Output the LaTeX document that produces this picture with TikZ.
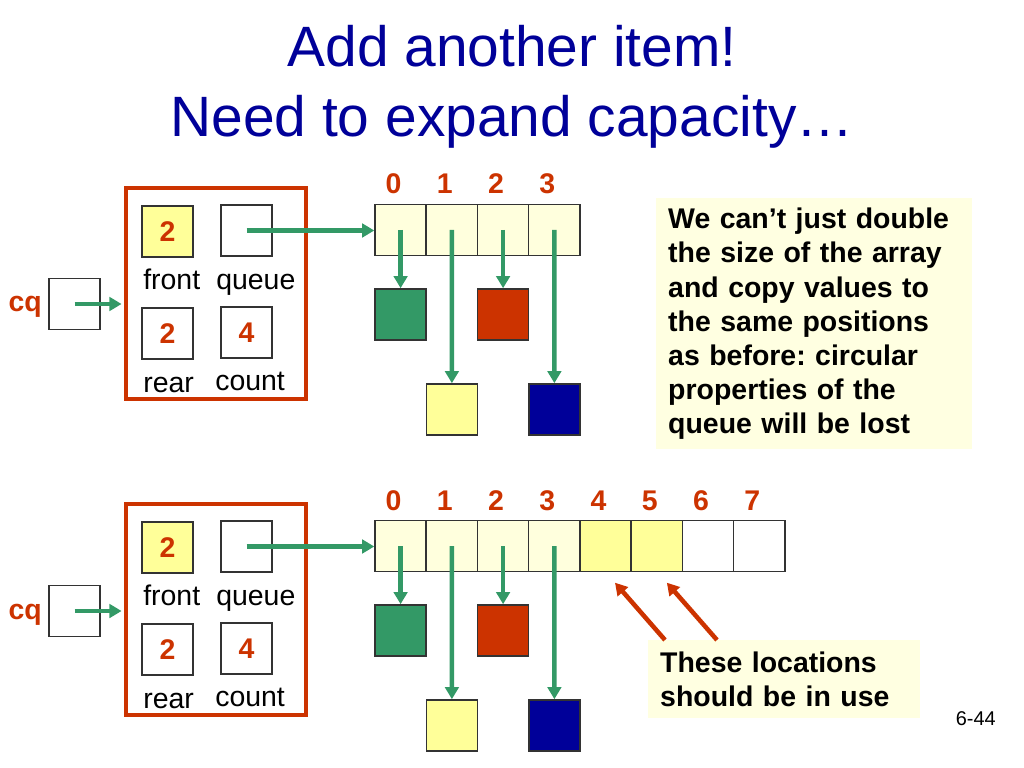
\documentclass[tikz,border=0pt]{standalone}
\usepackage{fontspec}
\setmainfont{Liberation Sans}
\usetikzlibrary{arrows.meta,calc}
\frenchspacing
\definecolor{qred}{HTML}{CC3300}
\definecolor{qgreen}{HTML}{339966}
\definecolor{qblue}{HTML}{000099}
\definecolor{qyellow}{HTML}{FFFF99}
\definecolor{qcream}{HTML}{FFFFDD}
\definecolor{qnote}{HTML}{FFFFE1}
\tikzset{
    box/.style={draw=black!80, line width=1pt, minimum size=36pt, inner sep=0pt},
    num/.style={text=qred, font=\fontsize{20}{24}\selectfont\bfseries},
    lbl/.style={font=\fontsize{20}{24}\selectfont, anchor=base west, inner sep=0pt},
    ptr/.style={draw=qgreen, line width=3.2pt, -{Triangle[length=8.5pt,width=9.5pt]}},
    hint/.style={draw=qred, line width=3.2pt, -{Triangle[length=8.5pt,width=9.5pt]}},
    note/.style={fill=qnote, align=left, inner xsep=8.4pt, font=\fontsize{20}{24}\selectfont\bfseries},
}
\begin{document}
\begin{tikzpicture}[x=0.703125pt,y=-0.703125pt]
            \useasboundingbox (0,0) rectangle (1024,768);
            \node[text=qblue, font=\fontsize{40}{48}\selectfont, anchor=base] (title1) at (512,67) {Add another item!};
            \node[text=qblue, font=\fontsize{40}{48}\selectfont, anchor=base] (title2) at (512,137) {Need to expand capacity…};
            \foreach \i in {0,...,3} {
                \node[box, fill=qcream] (cella\i) at ({400.6+51.25*\i},230) {};
                \node[num, anchor=base] at ({393.6+51.25*\i},194) {\i};
            }
            \foreach \i/\c in {0/qcream,1/qcream,2/qcream,3/qcream,4/qyellow,5/qyellow,6/white,7/white} {
                \node[box, fill=\c] (cellb\i) at ({400.6+51.25*\i},546) {};
                \node[num, anchor=base] at ({393.6+51.25*\i},510) {\i};
            }
            \foreach \s/\dy/\cy in {a/0/304,b/316/611} {
                \node[draw=qred, line width=2.8pt, minimum width=127pt, minimum height=149pt] (frame\s) at (216,{293.5+\dy}) {};
                \node[box, fill=qyellow, num] (front\s) at (167.5,{231.5+\dy}) {2};
                \node[box] (queue\s) at (246.5,{230.5+\dy}) {};
                \node[box, num] (rear\s) at (167.5,{333.5+\dy}) {2};
                \node[box, num] (count\s) at (246.5,{332.5+\dy}) {4};
                \node[lbl] at (143,{289+\dy}) {front};
                \node[lbl] at (216,{289+\dy}) {queue};
                \node[lbl] at (143,{392+\dy}) {rear};
                \node[lbl] at (215,{390+\dy}) {count};
                \node[box, fill=white] (cq\s) at (74.5,\cy) {};
                \node[num, anchor=base east, inner sep=0pt] at (42,{\cy+8}) {cq};
                \draw[ptr] (cq\s.center) -- ([xshift=-1.5pt]cq\s.center -| frame\s.west);
                \draw[ptr] (queue\s.center) -- (queue\s.center -| cell\s0.west);
                \node[box, fill=qgreen] (item\s0) at (400.6,{314.5+\dy}) {};
                \node[box, fill=qyellow] (item\s1) at (451.9,{409.5+\dy}) {};
                \node[box, fill=qred] (item\s2) at (503.1,{314.5+\dy}) {};
                \node[box, fill=qblue] (item\s3) at (554.4,{409.5+\dy}) {};
                \foreach \i in {0,...,3}
                    \draw[ptr] (cell\s\i.center) -- (item\s\i.north);
            }
            \node[note, text width=205.3pt, minimum height=176.5pt, anchor=north west] (why) at (656,198) {We can’t just double\\the size of the array\\and copy values to\\the same positions\\as before: circular\\properties of the\\queue will be lost};
            \node[note, text width=174.4pt, minimum height=54.8pt, anchor=north west] (inuse) at (648,640) {These locations\\should be in use};
            \draw[hint] ($(inuse.north west)+(17,0)$) -- ($(cellb4.south)+(9.4,10.4)$);
            \draw[hint] ($(inuse.north west)+(69,0)$) -- ($(cellb5.south)+(10,10.4)$);
            \node[font=\fontsize{14}{16}\selectfont, anchor=base east, inner sep=0pt] (page) at (996,725) {6-44};
        \end{tikzpicture}
\end{document}
